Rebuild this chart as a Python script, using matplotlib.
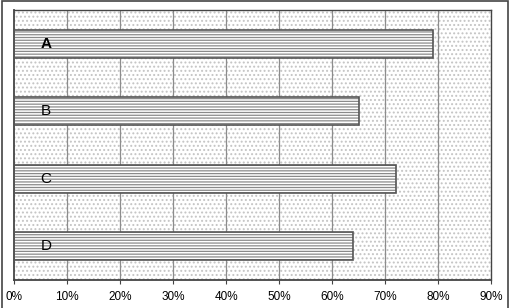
import matplotlib
matplotlib.use("Agg")
import matplotlib.pyplot as plt
from matplotlib.patches import Rectangle

plt.rcParams['font.family'] = ['Liberation Sans', 'DejaVu Sans']
plt.rcParams['hatch.linewidth'] = 0.9

# 数据
categories = ["A", "B", "C", "D"]
values = [79, 65, 72, 64]
bold_flags = [True, False, False, False]
ticks = [0, 10, 20, 30, 40, 50, 60, 70, 80, 90]
tick_labels = ["0%", "10%", "20%", "30%", "40%", "50%", "60%", "70%", "80%", "90%"]

fig = plt.figure(figsize=(5.11, 3.08), dpi=100)
fig.patch.set_facecolor("white")
ax = fig.add_axes([14/511, 28/308, 477/511, 270/308])

ax.set_xlim(0, 90)
ax.set_ylim(len(categories) - 0.5, -0.5)

# 背景点阵
bg = Rectangle((0, 0), 1, 1, transform=ax.transAxes, facecolor="white",
               edgecolor="#c4c4c4", hatch="....", linewidth=0, zorder=0)
ax.add_patch(bg)
ax.patch.set_visible(False)

# 网格线
for t in ticks[1:-1]:
    ax.axvline(t, color="#8c8c8c", linewidth=0.9, zorder=1)

y = list(range(len(categories)))
# 条形：横线填充 + 外框
ax.barh(y, values, height=0.42, color="white", edgecolor="#8a8a8a",
        hatch="------", linewidth=0, zorder=2)
ax.barh(y, values, height=0.42, color="none", edgecolor="#555555",
        linewidth=1.2, zorder=3)

for i, c in enumerate(categories):
    ax.text(6, i, c, ha="center", va="center", fontsize=11,
            fontweight="bold" if bold_flags[i] else "normal", zorder=4)

ax.set_xticks(ticks)
ax.set_xticklabels(tick_labels, fontsize=8.5)
ax.set_yticks([])
ax.tick_params(axis="x", direction="out", length=3, width=0.8, color="#444444", pad=5)

for s in ax.spines.values():
    s.set_color("#444444")
    s.set_linewidth(1.0)
ax.spines["bottom"].set_linewidth(1.3)
ax.spines["left"].set_linewidth(1.3)

# 外边框
frame = Rectangle((2/511, -0.05), 506/511, 1.05 - 1/308, transform=fig.transFigure,
                  facecolor="none", edgecolor="#444444", linewidth=1.2, clip_on=False)
fig.patches.append(frame)

fig.savefig("out.png", dpi=100)
